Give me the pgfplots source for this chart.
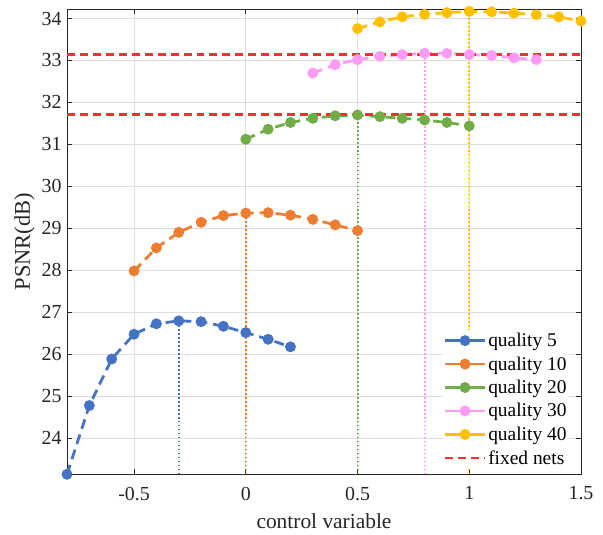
\documentclass[border=0pt]{standalone}
\usepackage{fontspec}
\setmainfont{Liberation Serif}
\usepackage{pgfplots}
\pgfplotsset{compat=1.18}

\definecolor{qblue}{HTML}{4472C4}
\definecolor{qorange}{HTML}{ED7D31}
\definecolor{qgreen}{HTML}{70AD47}
\definecolor{qpink}{HTML}{FF9BF5}
\definecolor{qyellow}{HTML}{FFC000}
\definecolor{fixedred}{HTML}{FF2E2E}
\definecolor{axgray}{HTML}{262626}

\pgfplotsset{
    qline/.style={color=#1, line width=2.8pt, dash pattern=on 10pt off 6pt,
        mark=*, mark size=4pt, mark options={solid, fill=#1}},
    optline/.style={color=#1, line width=2pt, dash pattern=on 1.8pt off 2.2pt, forget plot},
    fixedline/.style={color=fixedred, line width=2.2pt, dash pattern=on 8pt off 5pt},
    fixedlegend/.style={legend image code/.code={
        \draw[dash pattern=on 8pt off 5pt] (0cm,0cm) -- (1.4cm,0cm);}},
}

\begin{document}
\begin{tikzpicture}
\useasboundingbox (-67bp,-60.7bp) rectangle (536bp,474.3bp);
\begin{axis}[
    at={(0,0)}, anchor=south west,
    scale only axis,
    width=514bp, height=465bp,
    xmin=-0.8, xmax=1.5,
    ymin=23.13, ymax=34.22,
    xtick={-0.5,0,0.5,1,1.5},
    ytick={24,25,...,34},
    grid=major,
    grid style={line width=0.6pt, color=black!13},
    axis line style={line width=0.8pt, color=axgray},
    tick style={line width=0.6pt, color=axgray},
    tick align=inside,
    major tick length=5pt,
    /pgf/number format/assume math mode=true,
    ticklabel style={font=\fontsize{20}{24}\selectfont, text=axgray},
    xticklabel style={yshift=-9pt},
    yticklabel style={xshift=-2pt},
    xlabel={control variable},
    ylabel={PSNR(dB)},
    xlabel style={font=\fontsize{21.5}{25}\selectfont, text=axgray, yshift=-7pt},
    ylabel style={font=\fontsize{22.5}{26}\selectfont, text=axgray, yshift=0pt},
    legend cell align=left,
    legend style={
        at={(0.978,0.012)}, anchor=south east,
        draw=none, fill=white,
        font=\fontsize{19.5}{23.5}\selectfont,
        row sep=4.5pt, inner sep=1pt,
    },
    legend image code/.code={
        \draw[mark repeat=2, mark phase=2, solid]
            plot coordinates {(0cm,0cm) (0.7cm,0cm) (1.4cm,0cm)};
    },
]

% quality 5
\addplot[qline=qblue] coordinates {
    (-0.8,23.13) (-0.7,24.77) (-0.6,25.88) (-0.5,26.47) (-0.4,26.72)
    (-0.3,26.79) (-0.2,26.77) (-0.1,26.66) (0,26.51) (0.1,26.35) (0.2,26.17)
};
\addlegendentry{quality 5}

% quality 10
\addplot[qline=qorange] coordinates {
    (-0.5,27.98) (-0.4,28.53) (-0.3,28.90) (-0.2,29.14) (-0.1,29.30)
    (0,29.36) (0.1,29.37) (0.2,29.31) (0.3,29.21) (0.4,29.08) (0.5,28.94)
};
\addlegendentry{quality 10}

% quality 20
\addplot[qline=qgreen] coordinates {
    (0,31.12) (0.1,31.36) (0.2,31.52) (0.3,31.62) (0.4,31.68)
    (0.5,31.70) (0.6,31.66) (0.7,31.62) (0.8,31.58) (0.9,31.52) (1.0,31.44)
};
\addlegendentry{quality 20}

% quality 30
\addplot[qline=qpink] coordinates {
    (0.3,32.70) (0.4,32.90) (0.5,33.02) (0.6,33.10) (0.7,33.14)
    (0.8,33.17) (0.9,33.17) (1.0,33.14) (1.1,33.12) (1.2,33.06) (1.3,33.02)
};
\addlegendentry{quality 30}

% quality 40
\addplot[qline=qyellow] coordinates {
    (0.5,33.76) (0.6,33.92) (0.7,34.04) (0.8,34.10) (0.9,34.14)
    (1.0,34.17) (1.1,34.16) (1.2,34.13) (1.3,34.09) (1.4,34.04) (1.5,33.94)
};
\addlegendentry{quality 40}

% fixed nets
\addplot[fixedline, fixedlegend] coordinates {(-0.8,31.71) (1.5,31.71)};
\addlegendentry{fixed nets}
\addplot[fixedline, forget plot] coordinates {(-0.8,33.14) (1.5,33.14)};

% optimum of each quality
\addplot[optline=qblue] coordinates {(-0.3,23.13) (-0.3,26.79)};
\addplot[optline=qorange] coordinates {(0,23.13) (0,29.36)};
\addplot[optline=qgreen] coordinates {(0.5,23.13) (0.5,31.70)};
\addplot[optline=qpink] coordinates {(0.8,23.13) (0.8,33.17)};
\addplot[optline=qyellow] coordinates {(1.0,23.13) (1.0,34.17)};

\end{axis}
\end{tikzpicture}
\end{document}
